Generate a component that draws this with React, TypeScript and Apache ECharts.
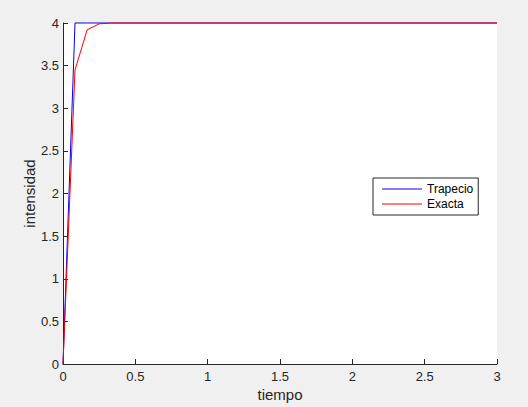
import React, { useEffect, useRef } from "react";
import * as echarts from "echarts";

const tiempo = [0, 0.083, 0.167, 0.25, 0.333, 3];
const trapecio = [0, 4, 4, 4, 4, 4];
const exacta = [0, 3.45, 3.92, 3.99, 4, 4];
const xTicks = [0, 0.5, 1, 1.5, 2, 2.5, 3];
const yTicks = [0, 0.5, 1, 1.5, 2, 2.5, 3, 3.5, 4];

const FONT = "'Liberation Sans', Arial, sans-serif";
const AX = "#262626";

export default function App() {
  const ref = useRef<HTMLDivElement>(null);
  useEffect(() => {
    if (!ref.current) return;
    const chart = echarts.init(ref.current, undefined, { renderer: "svg" });
    chart.setOption({
      animation: false,
      backgroundColor: "#f0f0f0",
      textStyle: { fontFamily: FONT },
      grid: {
        left: 63,
        right: 31,
        top: 23,
        bottom: 40,
        show: true,
        backgroundColor: "#ffffff",
        borderWidth: 0,
      },
      legend: {
        left: 373,
        top: 178,
        orient: "vertical",
        backgroundColor: "#ffffff",
        borderColor: "#262626",
        borderWidth: 1,
        borderRadius: 0,
        padding: [4, 5, 4, 9],
        itemGap: 1,
        itemWidth: 40,
        itemHeight: 1,
        icon: "rect",
        textStyle: { fontFamily: FONT, fontSize: 12, color: "#000", lineHeight: 14 },
        data: ["Trapecio", "Exacta"],
      },
      xAxis: {
        type: "value",
        min: xTicks[0],
        max: xTicks[xTicks.length - 1],
        interval: 0.5,
        name: "tiempo",
        nameLocation: "middle",
        nameGap: 23,
        nameMoveOverlap: false,
        nameTextStyle: { fontFamily: FONT, fontSize: 15, color: AX },
        axisLine: { show: true, lineStyle: { color: AX, width: 1 } },
        axisTick: { show: true, inside: true, length: 5, lineStyle: { color: AX } },
        axisLabel: { fontFamily: FONT, fontSize: 13, color: AX, margin: 6 },
        splitLine: { show: false },
      },
      yAxis: {
        type: "value",
        min: yTicks[0],
        max: yTicks[yTicks.length - 1],
        interval: 0.5,
        name: "intensidad",
        nameLocation: "middle",
        nameGap: 26,
        nameMoveOverlap: false,
        nameTextStyle: { fontFamily: FONT, fontSize: 15, color: AX },
        axisLine: { show: true, lineStyle: { color: AX, width: 1 } },
        axisTick: { show: true, inside: true, length: 5, lineStyle: { color: AX } },
        axisLabel: { fontFamily: FONT, fontSize: 13, color: AX, margin: 4 },
        splitLine: { show: false },
      },
      series: [
        {
          name: "Trapecio",
          type: "line",
          data: tiempo.map((t, i) => [t, trapecio[i]]),
          symbol: "none",
          lineStyle: { color: "#0000ff", width: 1 },
          itemStyle: { color: "#0000ff" },
          clip: false,
        },
        {
          name: "Exacta",
          type: "line",
          data: tiempo.map((t, i) => [t, exacta[i]]),
          symbol: "none",
          lineStyle: { color: "#ff0000", width: 1 },
          itemStyle: { color: "#ff0000" },
          clip: false,
        },
      ],
    });
    return () => chart.dispose();
  }, []);
  return (
    <div
      ref={ref}
      style={{ position: "absolute", left: 0, top: 0, width: 528, height: 407 }}
    />
  );
}
